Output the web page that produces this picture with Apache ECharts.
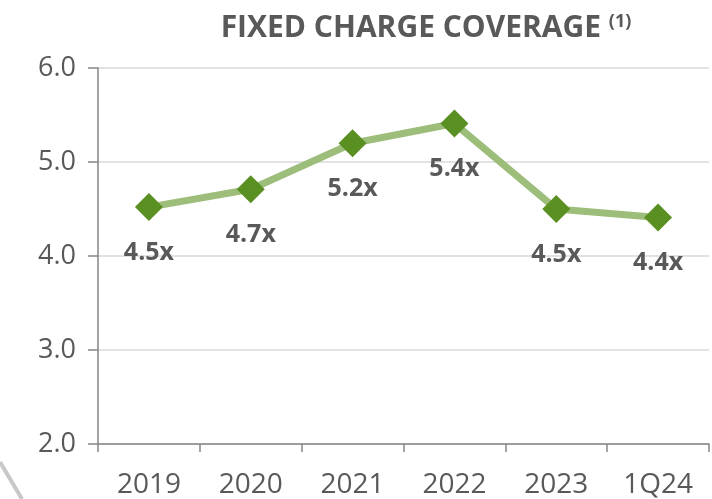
<!DOCTYPE html>
<html>
<head>
<meta charset="utf-8">
<script src="https://cdn.jsdelivr.net/npm/echarts@6/dist/echarts.min.js"></script>
<style>
  html, body { margin: 0; padding: 0; background: #fff; }
  #chart { width: 712px; height: 499px; }
</style>
</head>
<body>
<div id="chart"></div>
<script>
// 类别与数值
const categories = ['2019', '2020', '2021', '2022', '2023', '1Q24'];
const coverage = [4.52, 4.71, 5.2, 5.41, 4.5, 4.41];
const labels = ['4.5x', '4.7x', '5.2x', '5.4x', '4.5x', '4.4x'];

const textColor = '#595959';
const font = '"Open Sans", sans-serif';

const chart = echarts.init(document.getElementById('chart'));

chart.setOption({
  animation: false,
  title: {
    text: '{t|FIXED CHARGE COVERAGE }{s|(1)}',
    left: 421,
    top: 8,
    textAlign: 'center',
    textStyle: {
      rich: {
        t: { fontSize: 30, fontWeight: 'bold', color: textColor, fontFamily: font },
        s: { fontSize: 18, fontWeight: 'bold', color: textColor, fontFamily: font, verticalAlign: 'top', padding: [0, 0, 12, 0] }
      }
    }
  },
  grid: { left: 98, right: 3, top: 68, bottom: 54 },
  xAxis: {
    type: 'category',
    data: categories,
    boundaryGap: true,
    axisLine: { lineStyle: { color: '#868686', width: 1.5 } },
    axisTick: { show: true, length: 8, lineStyle: { color: '#868686', width: 1.5 } },
    axisLabel: { color: textColor, fontSize: 28, fontFamily: font, margin: 27 }
  },
  yAxis: {
    type: 'value',
    min: 2,
    max: 6,
    interval: 1,
    axisLine: { show: true, lineStyle: { color: '#868686', width: 1.5 } },
    axisTick: { show: true, length: 10, lineStyle: { color: '#868686', width: 1.5 } },
    axisLabel: {
      color: textColor, fontSize: 27, fontFamily: font, margin: 22,
      formatter: v => v.toFixed(1)
    },
    splitLine: { lineStyle: { color: '#d9d9d9', width: 1.5 } }
  },
  series: [{
    type: 'line',
    data: coverage,
    symbol: 'diamond',
    symbolSize: 28,
    lineStyle: { color: '#9dbd7b', width: 7 },
    itemStyle: { color: '#5a8f22' },
    label: {
      show: true,
      position: 'bottom',
      distance: 19,
      color: textColor,
      fontSize: 25,
      fontWeight: 'bold',
      fontFamily: font,
      formatter: p => labels[p.dataIndex]
    }
  }],
  graphic: [{
    type: 'line',
    shape: { x1: 0, y1: 462, x2: 22, y2: 499 },
    style: { stroke: '#c8c8c8', lineWidth: 4 }
  }]
});
</script>
</body>
</html>
